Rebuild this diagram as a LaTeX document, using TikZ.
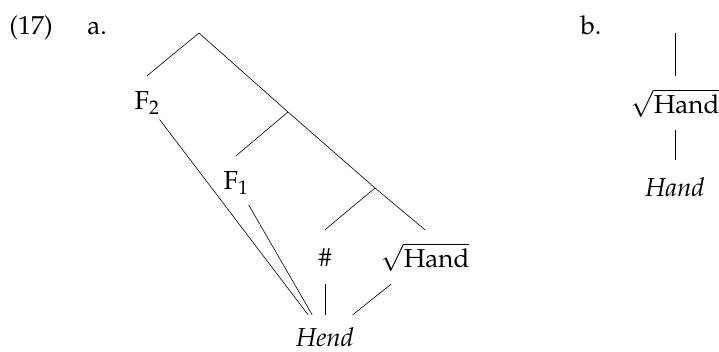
\documentclass[tikz,border=0pt]{standalone}
\usepackage[T1]{fontenc}
\usepackage{mathpazo}
\begin{document}
\begin{tikzpicture}[x=1pt,y=-1pt,
  every node/.style={font=\fontsize{26}{31}\selectfont},
  lab/.style={inner sep=0pt, minimum height=54pt, minimum width=20pt},
  wd/.style={inner sep=0pt, minimum height=44pt, minimum width=20pt},
  ln/.style={line width=0.6pt}]
\useasboundingbox (0,0) rectangle (719,351);
% labels
\node[anchor=base] (ex) at (31,34) {(17)};
\node[anchor=base] (la) at (97,34) {a.};
\node[anchor=base] (lb) at (591,34) {b.};
% tree a
\coordinate (r0) at (199,33);
\coordinate (r1) at (288,112);
\coordinate (r2) at (375,188);
\node[lab] (F2) at (147,103) {F$_2$};
\node[lab] (F1) at (236,183) {F$_1$};
\node[lab] (hash) at (325,257) {\#};
\node[lab] (root) at (425,257) {$\sqrt{\mathrm{Hand}}$};
\node[wd] (hend) at (325,337) {\textit{Hend}};
\draw[ln] (F2.north) -- (r0) -- (r1) -- (r2) -- (root.north);
\draw[ln] (r1) -- (F1.north);
\draw[ln] (r2) -- (hash.north);
\draw[ln] (F2) -- (hend);
\draw[ln] (F1) -- (hend);
\draw[ln] (hash) -- (hend);
\draw[ln] (root) -- (hend);
% tree b
\coordinate (b0) at (675,33);
\node[lab] (broot) at (675,103) {$\sqrt{\mathrm{Hand}}$};
\node[lab] (bhand) at (675,187) {\textit{Hand}};
\draw[ln] (b0) -- (broot);
\draw[ln] (broot) -- (bhand);
\end{tikzpicture}
\end{document}
